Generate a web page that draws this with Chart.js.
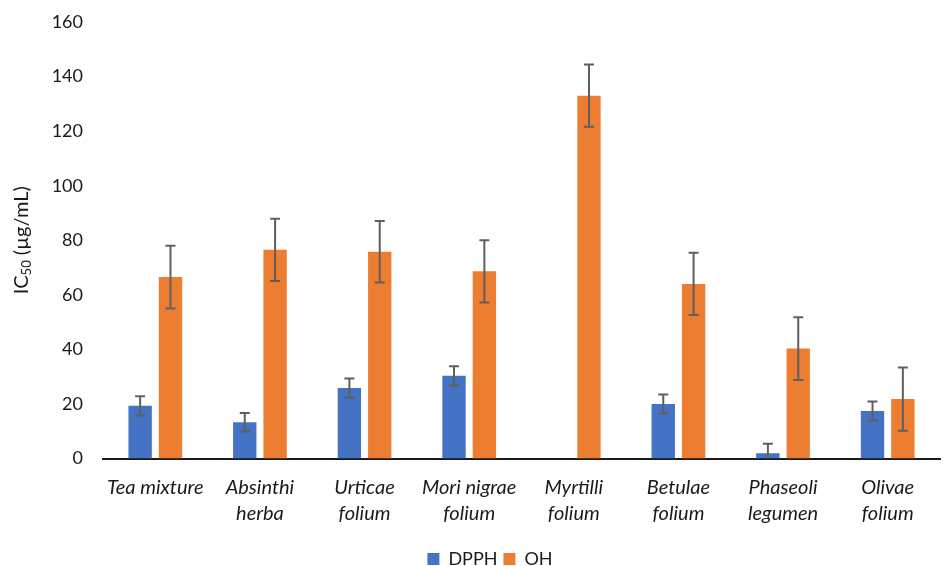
<!DOCTYPE html>
<html>
<head>
<meta charset="utf-8">
<script src="https://cdn.jsdelivr.net/npm/chart.js@4.4.1/dist/chart.umd.min.js"></script>
<style>
  html, body { margin: 0; padding: 0; background: #ffffff; }
  #wrap { width: 944px; height: 566px; position: relative; }
</style>
</head>
<body>
<div id="wrap"><canvas id="chart" width="944" height="566"></canvas></div>
<script>
// Plant extracts (two-line labels where the name wraps)
const categories = [
  ["Tea mixture"],
  ["Absinthi", "herba"],
  ["Urticae", "folium"],
  ["Mori nigrae", "folium"],
  ["Myrtilli", "folium"],
  ["Betulae", "folium"],
  ["Phaseoli", "legumen"],
  ["Olivae", "folium"]
];

// IC50 values (µg/mL)
const dpphValues = [19.3, 13.3, 25.8, 30.3, null, 20.0, 1.9, 17.4];
const ohValues   = [66.5, 76.5, 75.8, 68.6, 133.0, 64.0, 40.3, 21.8];

// Standard deviations
const dpphErrors = [3.5, 3.4, 3.5, 3.5, null, 3.5, 3.5, 3.5];
const ohErrors   = [11.5, 11.4, 11.3, 11.4, 11.4, 11.4, 11.5, 11.6];

// Y axis ticks
const yTicks = [0, 20, 40, 60, 80, 100, 120, 140, 160];

const FONT = "Lato, 'Open Sans', sans-serif";

// Draws the ± error whiskers on top of each bar
const errorBarPlugin = {
  id: 'errorBars',
  afterDatasetsDraw(chart) {
    const ctx = chart.ctx;
    const yScale = chart.scales.y;
    const area = chart.chartArea;
    ctx.save();
    ctx.beginPath();
    ctx.rect(area.left, area.top - 10, area.right - area.left, area.bottom - area.top + 10);
    ctx.clip();
    ctx.strokeStyle = '#5f5f5f';
    ctx.lineWidth = 2;
    chart.data.datasets.forEach((ds, i) => {
      const meta = chart.getDatasetMeta(i);
      meta.data.forEach((bar, j) => {
        const v = ds.data[j];
        const e = ds.errors[j];
        if (v == null || e == null) return;
        const x = bar.x;
        const yTop = yScale.getPixelForValue(v + e);
        const yBot = yScale.getPixelForValue(v - e);
        const cap = 5;
        ctx.beginPath();
        ctx.moveTo(x, yTop); ctx.lineTo(x, yBot);
        ctx.moveTo(x - cap, yTop); ctx.lineTo(x + cap, yTop);
        ctx.moveTo(x - cap, yBot); ctx.lineTo(x + cap, yBot);
        ctx.stroke();
      });
    });
    ctx.restore();
  }
};

// Rotated y-axis title with a subscript "50"
const yTitlePlugin = {
  id: 'yTitle',
  afterDraw(chart) {
    const ctx = chart.ctx;
    const area = chart.chartArea;
    const cy = (area.top + area.bottom) / 2;
    const big = '20px ' + FONT;
    const small = '13px ' + FONT;
    const parts = [
      { t: 'IC', f: big, dy: 0 },
      { t: '50', f: small, dy: 5 },
      { t: ' (µg/mL)', f: big, dy: 0 }
    ];
    let total = 0;
    parts.forEach(p => { ctx.font = p.f; p.w = ctx.measureText(p.t).width; total += p.w; });
    ctx.save();
    ctx.translate(22, cy);
    ctx.rotate(-Math.PI / 2);
    ctx.fillStyle = '#1a1a1a';
    ctx.textBaseline = 'middle';
    ctx.textAlign = 'left';
    let x = -total / 2;
    parts.forEach(p => {
      ctx.font = p.f;
      ctx.fillText(p.t, x, p.dy);
      x += p.w;
    });
    ctx.restore();
  }
};

new Chart(document.getElementById('chart'), {
  type: 'bar',
  data: {
    labels: categories,
    datasets: [
      {
        label: 'DPPH',
        data: dpphValues,
        errors: dpphErrors,
        backgroundColor: '#4472C4',
        borderWidth: 0
      },
      {
        label: 'OH',
        data: ohValues,
        errors: ohErrors,
        backgroundColor: '#ED7D31',
        borderWidth: 0
      }
    ]
  },
  options: {
    responsive: false,
    animation: false,
    devicePixelRatio: 1,
    layout: { padding: { left: 40, right: 4, top: 22, bottom: -12 } },
    datasets: {
      bar: { categoryPercentage: 0.58, barPercentage: 0.77 }
    },
    scales: {
      x: {
        afterFit(scale) { scale.height = 85.5; },
        grid: { display: false, drawTicks: false },
        border: { display: true, color: '#1a1a1a', width: 2 },
        ticks: {
          color: '#1a1a1a',
          font: { family: FONT, size: 20, style: 'italic', lineHeight: 1.3 },
          padding: 16,
          maxRotation: 0,
          autoSkip: false
        }
      },
      y: {
        min: 0,
        max: 160,
        afterBuildTicks(scale) {
          scale.ticks = yTicks.map(v => ({ value: v }));
        },
        afterFit(scale) {
          scale.width = 63;
          scale.paddingTop = 0;
          scale.paddingBottom = 0;
        },
        grid: { display: false, drawTicks: false },
        border: { display: false },
        ticks: {
          color: '#1a1a1a',
          font: { family: FONT, size: 18 },
          padding: 20
        }
      }
    },
    plugins: {
      legend: {
        position: 'bottom',
        labels: {
          boxWidth: 12,
          boxHeight: 12,
          padding: 6,
          color: '#1a1a1a',
          font: { family: FONT, size: 18 }
        }
      },
      tooltip: { enabled: false }
    }
  },
  plugins: [errorBarPlugin, yTitlePlugin]
});
</script>
</body>
</html>
